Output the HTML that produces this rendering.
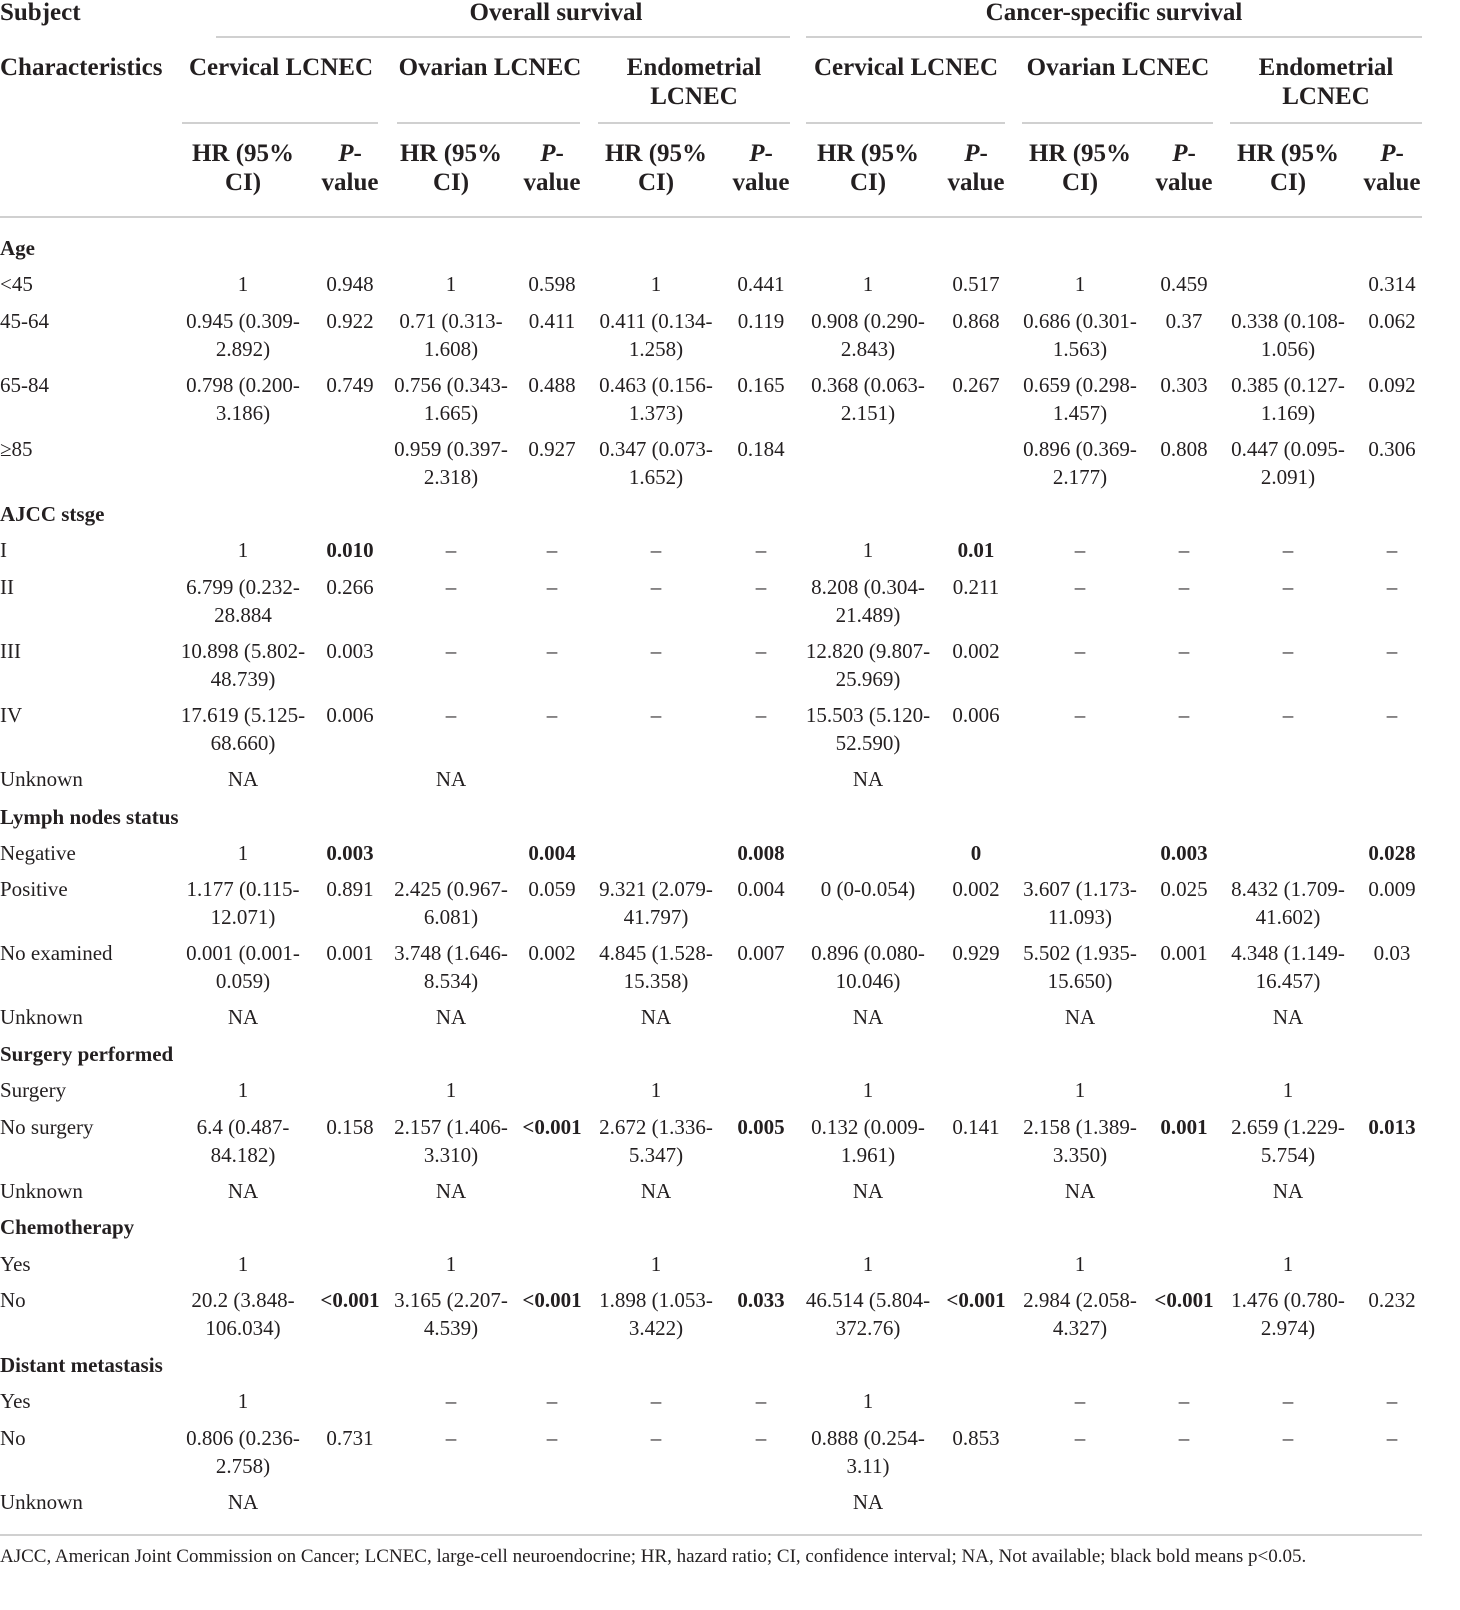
<!DOCTYPE html>
<html><head><meta charset="utf-8"><style>
body{margin:0;background:#fff;width:1460px;height:1610px;position:relative;overflow:hidden;font-family:"Liberation Serif",serif;color:#231f20}
.t{position:absolute;white-space:nowrap;font-size:21px;line-height:28px;transform:translateY(-14px)}
.c{transform:translate(-50%,-14px);text-align:center}
.h{font-weight:bold;font-size:25px;line-height:29px}
.b{font-weight:bold}
.f{font-size:19px}
.ln{position:absolute;height:2px;background:#d0d0d0}
</style></head><body>
<div id="tbl"></div>
<script>
const root=document.getElementById('tbl');
function txt(s,x,y,cls,name){const d=document.createElement('div');d.className='t '+cls;d.style.left=x+'px';d.style.top=y+'px';d.innerHTML=s;


root.appendChild(d);}
function line(x1,x2,y,name){const d=document.createElement('div');d.className='ln';d.style.left=x1+'px';d.style.width=(x2-x1)+'px';d.style.top=y+'px';


root.appendChild(d);}
const centers=[243,350,451,552,656,761,868,976,1080,1184,1288,1392];
txt('Subject',0,12,'h','subject-header');
txt('Overall survival',556,12,'h c','overall-survival-header');
txt('Cancer-specific survival',1114,12,'h c','cancer-specific-header');
line(216,790,36,'os-group-rule');line(806,1422,36,'css-group-rule');
txt('Characteristics',0,67,'h','characteristics-header');
const groups=['Cervical LCNEC','Ovarian LCNEC','Endometrial<br>LCNEC','Cervical LCNEC','Ovarian LCNEC','Endometrial<br>LCNEC'];
const gx=[281,490,694,906,1118,1326];
groups.forEach((g,i)=>txt(g,gx[i],67,'h c','group-header'));
const sub=[[182,378],[397,580],[598,790],[806,1005],[1022,1213],[1230,1422]];
sub.forEach(s=>line(s[0],s[1],122,'subgroup-rule'));
for(let i=0;i<6;i++){txt('HR (95%<br>CI)',centers[2*i],153,'h c','hr-header');txt('<i>P</i>-<br>value',centers[2*i+1],153,'h c','p-value-header');}
line(0,1422,216,'header-bottom-rule');
const rowLabels=['*Age','<45','45-64','65-84','≥85','*AJCC stsge','I','II','III','IV','Unknown','*Lymph nodes status','Negative','Positive','No examined','Unknown','*Surgery performed','Surgery','No surgery','Unknown','*Chemotherapy','Yes','No','*Distant metastasis','Yes','No','Unknown'];
const rowY=[248,284,321,385,449,514,550,587,651,715,779,817,853,889,953,1017,1054,1090,1127,1191,1227,1264,1300,1365,1401,1438,1502];
const D='–';
const rowCells=[
[],
['1','0.948','1','0.598','1','0.441','1','0.517','1','0.459','','0.314'],
['0.945 (0.309-|2.892)','0.922','0.71 (0.313-|1.608)','0.411','0.411 (0.134-|1.258)','0.119','0.908 (0.290-|2.843)','0.868','0.686 (0.301-|1.563)','0.37','0.338 (0.108-|1.056)','0.062'],
['0.798 (0.200-|3.186)','0.749','0.756 (0.343-|1.665)','0.488','0.463 (0.156-|1.373)','0.165','0.368 (0.063-|2.151)','0.267','0.659 (0.298-|1.457)','0.303','0.385 (0.127-|1.169)','0.092'],
['','','0.959 (0.397-|2.318)','0.927','0.347 (0.073-|1.652)','0.184','','','0.896 (0.369-|2.177)','0.808','0.447 (0.095-|2.091)','0.306'],
[],
['1','*0.010',D,D,D,D,'1','*0.01',D,D,D,D],
['6.799 (0.232-|28.884','0.266',D,D,D,D,'8.208 (0.304-|21.489)','0.211',D,D,D,D],
['10.898 (5.802-|48.739)','0.003',D,D,D,D,'12.820 (9.807-|25.969)','0.002',D,D,D,D],
['17.619 (5.125-|68.660)','0.006',D,D,D,D,'15.503 (5.120-|52.590)','0.006',D,D,D,D],
['NA','','NA','','','','NA','','','','',''],
[],
['1','*0.003','','*0.004','','*0.008','','*0','','*0.003','','*0.028'],
['1.177 (0.115-|12.071)','0.891','2.425 (0.967-|6.081)','0.059','9.321 (2.079-|41.797)','0.004','0 (0-0.054)','0.002','3.607 (1.173-|11.093)','0.025','8.432 (1.709-|41.602)','0.009'],
['0.001 (0.001-|0.059)','0.001','3.748 (1.646-|8.534)','0.002','4.845 (1.528-|15.358)','0.007','0.896 (0.080-|10.046)','0.929','5.502 (1.935-|15.650)','0.001','4.348 (1.149-|16.457)','0.03'],
['NA','','NA','','NA','','NA','','NA','','NA',''],
[],
['1','','1','','1','','1','','1','','1',''],
['6.4 (0.487-|84.182)','0.158','2.157 (1.406-|3.310)','*<0.001','2.672 (1.336-|5.347)','*0.005','0.132 (0.009-|1.961)','0.141','2.158 (1.389-|3.350)','*0.001','2.659 (1.229-|5.754)','*0.013'],
['NA','','NA','','NA','','NA','','NA','','NA',''],
[],
['1','','1','','1','','1','','1','','1',''],
['20.2 (3.848-|106.034)','*<0.001','3.165 (2.207-|4.539)','*<0.001','1.898 (1.053-|3.422)','*0.033','46.514 (5.804-|372.76)','*<0.001','2.984 (2.058-|4.327)','*<0.001','1.476 (0.780-|2.974)','0.232'],
[],
['1','',D,D,D,D,'1','',D,D,D,D],
['0.806 (0.236-|2.758)','0.731',D,D,D,D,'0.888 (0.254-|3.11)','0.853',D,D,D,D],
['NA','','','','','','NA','','','','','']
];
rowLabels.forEach((l,i)=>{
  const bold=l[0]==='*';
  txt(bold?l.slice(1):l,0,rowY[i],bold?'b':'','row-label');
  rowCells[i].forEach((c,j)=>{
    if(!c)return;let cb=c[0]==='*';let s=cb?c.slice(1):c;
    s=s.replace(/</g,'&lt;').replace('|','<br>');
    txt(s,centers[j],rowY[i],'c'+(cb?' b':''),'table-cell');
  });
});
line(0,1422,1534,'table-bottom-rule');
txt('AJCC, American Joint Commission on Cancer; LCNEC, large-cell neuroendocrine; HR, hazard ratio; CI, confidence interval; NA, Not available; black bold means p&lt;0.05.',0,1557,'f','footnote');
</script>
</body></html>
